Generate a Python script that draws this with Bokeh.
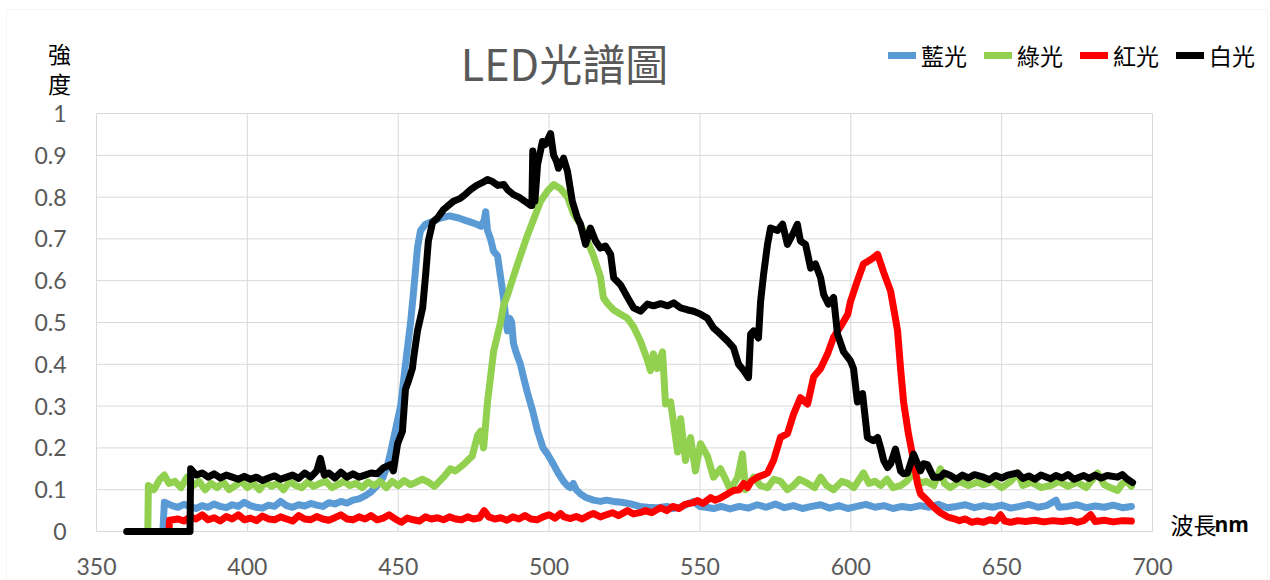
from bokeh.plotting import figure
from bokeh.models import Legend, LegendItem, Label, FixedTicker, BoxAnnotation, Range1d
from bokeh.embed import file_html
from bokeh.resources import INLINE

# ---------------- data ----------------
blue_wl = [372, 372.5, 375, 377, 379, 381, 383, 385, 387, 389, 391, 393, 395, 397, 399, 401, 403, 405, 407, 409,
           411, 413, 415, 417, 419, 421, 423, 425, 427, 429, 431, 433, 435, 437, 439, 441, 443, 445, 446.5, 447.5,
           449, 450.8, 452.4, 454.1, 455.1, 456.4, 457.4, 459, 461, 464, 467, 470, 472, 474, 476, 477.5, 478.5, 479,
           479.6, 480.6, 481.6, 482.9, 483.9, 484.9, 485.5, 486.2, 487, 487.6, 488.2, 489, 490.5, 491.5, 492.9, 494.5,
           496.2, 498, 499.5, 501.5, 503, 504.8, 506, 507, 508, 509, 510.4, 512, 514.7, 517, 519, 521.4, 524, 527,
           530, 532.6, 536, 539, 541, 543.6, 546, 547.9, 550, 552, 554.5, 557, 560, 563, 566, 569, 572, 575, 578,
           581, 584, 587, 590, 593, 596, 599, 602, 605, 608, 611, 614, 617, 620, 623, 626, 629, 632, 635, 638, 641,
           644, 647, 650, 653, 656, 659, 662, 665, 668, 669, 672, 675, 678, 681, 684, 687, 690, 693]
blue_val = [0.0, 0.07, 0.062, 0.058, 0.065, 0.06, 0.055, 0.062, 0.058, 0.066, 0.06, 0.057, 0.064, 0.06, 0.07, 0.062,
            0.058, 0.056, 0.063, 0.06, 0.072, 0.062, 0.058, 0.064, 0.061, 0.067, 0.063, 0.06, 0.069, 0.066, 0.072,
            0.068, 0.075, 0.078, 0.085, 0.095, 0.11, 0.13, 0.16, 0.19, 0.24, 0.30, 0.40, 0.50, 0.575, 0.68, 0.72,
            0.735, 0.74, 0.75, 0.755, 0.75, 0.745, 0.74, 0.735, 0.73, 0.745, 0.765, 0.72, 0.70, 0.67, 0.66, 0.61,
            0.56, 0.52, 0.48, 0.51, 0.50, 0.45, 0.43, 0.40, 0.37, 0.33, 0.29, 0.24, 0.20, 0.185, 0.16, 0.14, 0.12,
            0.11, 0.105, 0.115, 0.10, 0.09, 0.082, 0.075, 0.072, 0.075, 0.072, 0.07, 0.066, 0.06, 0.058, 0.057,
            0.06, 0.055, 0.058, 0.066, 0.072, 0.06, 0.058, 0.055, 0.06, 0.054, 0.06, 0.056, 0.064, 0.058, 0.066,
            0.057, 0.062, 0.055, 0.06, 0.064, 0.056, 0.062, 0.055, 0.06, 0.065, 0.058, 0.062, 0.055, 0.06, 0.057,
            0.062, 0.058, 0.065, 0.057, 0.06, 0.064, 0.057, 0.062, 0.058, 0.063, 0.056, 0.06, 0.065, 0.058, 0.062,
            0.075, 0.058, 0.06, 0.064, 0.057, 0.061, 0.058, 0.063, 0.057, 0.06]

green_wl = [367, 367.2, 369, 371, 372.5, 374, 376, 378, 380, 382, 384, 386, 388, 390, 392, 394, 396, 398, 400, 402,
            404, 406, 408, 410, 412, 414, 416, 418, 420, 422, 424, 426, 428, 430, 432, 434, 436, 438, 440, 442, 444,
            446, 448, 450, 452, 454, 456, 458, 460, 462, 463, 465, 467.3, 469, 471.6, 473, 474.5, 476.3, 477.3,
            478.3, 479.6, 480.6, 481.6, 482.9, 483.9, 484.9, 486.2, 488.2, 490.5, 492.9, 494.8, 497.2, 499.5,
            501.5, 503.8, 506.1, 508.1, 510.4, 512.7, 514.7, 517, 518, 519.4, 521.4, 523.7, 526, 528, 530.3, 532.6,
            533.6, 534.6, 535.9, 537.6, 538.6, 540.3, 542.6, 543.6, 545.2, 546.9, 548.5, 550.2, 552.5, 554.5,
            556.8, 558.5, 560.1, 562.5, 564.1, 565.1, 567.8, 570, 572.4, 574.5, 576.7, 579, 581, 583, 585.7, 588,
            590, 592, 594.3, 597, 599, 601, 604.2, 606, 608, 609.9, 612, 614, 616.5, 618.5, 620.8, 623, 625, 627.5,
            629.7, 631, 633, 636, 639, 642, 644, 647, 650, 653, 655.3, 657, 660, 663, 666.2, 669, 672, 675, 678,
            681.8, 684, 686, 688.4, 690, 691.7, 693]
green_val = [0.0, 0.11, 0.10, 0.125, 0.135, 0.115, 0.12, 0.105, 0.13, 0.11, 0.12, 0.10, 0.115, 0.105, 0.118, 0.10,
             0.11, 0.12, 0.105, 0.115, 0.10, 0.118, 0.108, 0.115, 0.10, 0.12, 0.11, 0.105, 0.118, 0.108, 0.115,
             0.12, 0.105, 0.112, 0.12, 0.11, 0.115, 0.105, 0.118, 0.11, 0.12, 0.105, 0.12, 0.11, 0.122, 0.112,
             0.118, 0.125, 0.118, 0.108, 0.115, 0.13, 0.15, 0.145, 0.16, 0.17, 0.18, 0.23, 0.24, 0.20, 0.31, 0.37,
             0.43, 0.47, 0.50, 0.54, 0.565, 0.61, 0.66, 0.71, 0.745, 0.79, 0.815, 0.83, 0.82, 0.80, 0.76, 0.735,
             0.695, 0.66, 0.61, 0.56, 0.545, 0.53, 0.52, 0.51, 0.49, 0.455, 0.41, 0.385, 0.425, 0.39, 0.43, 0.305,
             0.31, 0.19, 0.27, 0.17, 0.225, 0.145, 0.21, 0.18, 0.13, 0.15, 0.125, 0.10, 0.13, 0.185, 0.10, 0.13,
             0.11, 0.105, 0.125, 0.12, 0.10, 0.11, 0.125, 0.115, 0.105, 0.13, 0.11, 0.10, 0.12, 0.115, 0.105, 0.14,
             0.115, 0.12, 0.11, 0.125, 0.105, 0.11, 0.12, 0.14, 0.115, 0.12, 0.11, 0.15, 0.115, 0.105, 0.12, 0.11,
             0.118, 0.112, 0.12, 0.105, 0.12, 0.14, 0.11, 0.118, 0.105, 0.11, 0.12, 0.108, 0.118, 0.105, 0.14,
             0.112, 0.105, 0.098, 0.115, 0.12, 0.108]

red_wl = [374, 374.2, 377, 379, 381, 383, 385, 387, 389, 391, 393, 395, 397, 399, 401, 403, 405, 407, 409, 411, 413,
          415, 417, 419, 421, 423, 425, 427, 429, 431, 433, 435, 437, 439, 441, 443, 445, 447, 449, 451, 453, 455,
          457, 459, 461, 463, 465, 467, 469, 471, 473, 475, 477, 478.5, 480, 482, 484, 486, 488, 490, 492, 494,
          496, 498, 500, 502, 503.8, 505, 507.1, 509, 511, 513, 514.7, 517, 519, 521, 523, 526, 528, 530, 532,
          534, 536.9, 539, 541, 543, 545, 547.9, 549.2, 551, 553.5, 555, 556.8, 559.1, 561.1, 563, 564.5, 565.8,
          567, 569.1, 571, 572.4, 574.4, 576.7, 579, 581, 583.3, 585.7, 587.7, 590, 592.3, 594.3, 596.6, 599,
          599.9, 602.2, 604.2, 606.5, 607.5, 608.9, 610.9, 613.2, 614.8, 615.5, 616.5, 617.5, 619.1, 620.8, 622.1,
          623.1, 625.4, 626.4, 628, 629.7, 632, 634, 636, 638, 640, 642, 644, 646, 648, 649.6, 651, 653, 655.3,
          658, 661, 664, 667, 670, 673, 675, 677.2, 679.5, 681, 684, 687, 690, 693]
red_val = [0.0, 0.027, 0.03, 0.025, 0.035, 0.03, 0.04, 0.028, 0.033, 0.025, 0.036, 0.03, 0.04, 0.028, 0.032, 0.026,
           0.037, 0.03, 0.028, 0.035, 0.03, 0.025, 0.038, 0.03, 0.028, 0.036, 0.03, 0.027, 0.033, 0.04, 0.03,
           0.028, 0.035, 0.03, 0.038, 0.028, 0.032, 0.04, 0.03, 0.022, 0.032, 0.028, 0.025, 0.035, 0.03, 0.033,
           0.028, 0.035, 0.03, 0.028, 0.035, 0.03, 0.033, 0.05, 0.035, 0.03, 0.033, 0.027, 0.035, 0.03, 0.038,
           0.03, 0.028, 0.035, 0.04, 0.032, 0.043, 0.035, 0.031, 0.036, 0.03, 0.038, 0.043, 0.035, 0.04, 0.045,
           0.038, 0.05, 0.042, 0.045, 0.05, 0.045, 0.057, 0.05, 0.06, 0.055, 0.065, 0.069, 0.074, 0.067, 0.081,
           0.075, 0.08, 0.09, 0.098, 0.10, 0.115, 0.105, 0.12, 0.13, 0.135, 0.14, 0.17, 0.225, 0.234, 0.28, 0.32,
           0.305, 0.37, 0.39, 0.425, 0.465, 0.49, 0.52, 0.55, 0.60, 0.64, 0.65, 0.655, 0.663, 0.62, 0.575, 0.51,
           0.48, 0.39, 0.31, 0.234, 0.17, 0.115, 0.09, 0.074, 0.066, 0.055, 0.045, 0.035, 0.031, 0.026, 0.03,
           0.022, 0.025, 0.022, 0.028, 0.025, 0.04, 0.025, 0.022, 0.026, 0.024, 0.027, 0.023, 0.026, 0.024, 0.027,
           0.022, 0.026, 0.04, 0.024, 0.027, 0.023, 0.026, 0.025]

white_wl = [360, 381, 381.2, 383, 385, 387, 389, 391, 393, 395, 397, 399, 401, 403, 405, 407, 409, 411, 413, 415,
            417, 419, 421, 423, 424.2, 425.5, 427, 429, 431, 433, 435, 437, 439, 441, 443, 445, 447.4, 448.4, 449.8,
            451.4, 452.4, 453.4, 454.7, 455.1, 456.4, 458.1, 459.1, 460, 461.4, 463, 465, 468.3, 470.6, 472, 474,
            476, 478, 479.6, 481, 483, 485, 486.2, 488.2, 490, 492, 493.9, 494.3, 494.6, 495.3, 496.2, 497.8, 498.8,
            500.5, 501.5, 502.5, 503.1, 504.8, 506.1, 507.7, 509.4, 510.4, 512.1, 513.7, 515.4, 517, 518.7, 520.4,
            521.4, 523.7, 526, 528, 530.3, 532.6, 534.6, 537, 539.3, 541.3, 543.6, 546, 547.9, 550.2, 552.5, 554.5,
            556.8, 559.1, 561.1, 562.8, 564.5, 566.1, 566.8, 567.8, 569.4, 570.1, 571.1, 572.4, 573.4, 575.7, 577.4,
            579, 580.7, 582.3, 583.3, 585, 586.7, 588.3, 590, 591, 592.6, 594.3, 595.6, 597.6, 599.9, 600.9, 602.2,
            603.9, 605.5, 607.5, 608.9, 609.9, 610.9, 612.2, 613.2, 614.8, 616.5, 617.5, 618.8, 620.8, 623.1, 624.1,
            625.4, 627.4, 629.7, 631, 633, 635, 637, 639, 641, 644, 646, 648, 650, 652, 655.3, 657, 659, 661, 663,
            666.2, 668, 670, 672, 674, 677.2, 679, 681, 683, 685, 688.4, 690, 691.7, 693.4]
white_val = [0.0, 0.0, 0.15, 0.135, 0.14, 0.13, 0.138, 0.128, 0.135, 0.13, 0.125, 0.132, 0.125, 0.13, 0.122, 0.128,
             0.133, 0.125, 0.13, 0.135, 0.127, 0.14, 0.13, 0.145, 0.175, 0.135, 0.14, 0.128, 0.142, 0.13, 0.138,
             0.13, 0.135, 0.14, 0.138, 0.152, 0.16, 0.145, 0.21, 0.24, 0.34, 0.36, 0.39, 0.415, 0.48, 0.535, 0.615,
             0.695, 0.74, 0.75, 0.77, 0.79, 0.797, 0.805, 0.818, 0.828, 0.835, 0.842, 0.838, 0.828, 0.83, 0.818,
             0.806, 0.80, 0.79, 0.78, 0.78, 0.91, 0.79, 0.878, 0.933, 0.926, 0.952, 0.90, 0.885, 0.869, 0.893, 0.862,
             0.79, 0.75, 0.735, 0.687, 0.726, 0.695, 0.678, 0.683, 0.663, 0.607, 0.59, 0.56, 0.535, 0.527, 0.544,
             0.54, 0.545, 0.54, 0.547, 0.535, 0.53, 0.527, 0.52, 0.51, 0.487, 0.472, 0.456, 0.44, 0.40, 0.385, 0.368,
             0.472, 0.48, 0.463, 0.55, 0.615, 0.687, 0.726, 0.72, 0.735, 0.687, 0.71, 0.735, 0.695, 0.687, 0.63,
             0.64, 0.607, 0.567, 0.544, 0.56, 0.472, 0.43, 0.408, 0.39, 0.31, 0.33, 0.225, 0.217, 0.225, 0.20, 0.17,
             0.153, 0.162, 0.197, 0.145, 0.138, 0.14, 0.185, 0.145, 0.162, 0.16, 0.13, 0.13, 0.14, 0.134, 0.125,
             0.135, 0.128, 0.136, 0.13, 0.124, 0.134, 0.128, 0.135, 0.14, 0.127, 0.133, 0.125, 0.135, 0.126, 0.134,
             0.128, 0.136, 0.125, 0.134, 0.127, 0.135, 0.128, 0.134, 0.13, 0.136, 0.125, 0.117]

series_names = ["藍光", "綠光", "紅光", "白光"]
series_colors = ["#5B9BD5", "#92D050", "#FF0000", "#000000"]
x_ticks = [350, 400, 450, 500, 550, 600, 650, 700]
y_ticks = [0, 0.1, 0.2, 0.3, 0.4, 0.5, 0.6, 0.7, 0.8, 0.9, 1.0]
y_tick_labels = ["0", "0.1", "0.2", "0.3", "0.4", "0.5", "0.6", "0.7", "0.8", "0.9", "1"]
title_text = "LED光譜圖"
y_title_chars = ["強", "度"]
x_title_text = "波長"
x_title_unit = "nm"

# ---------------- layout (pixels of the 1270x580 canvas) ----------------
W, H = 1270, 580
PL, PR, PT, PB = 96, 1152, 113, 531          # plot-area edges on the canvas
X0, X1 = x_ticks[0], x_ticks[-1]
Y0, Y1 = y_ticks[0], y_ticks[-1]
kx = (X1 - X0) / (PR - PL)
ky = (Y1 - Y0) / (PB - PT)
x_range = Range1d(X0 - PL * kx, X0 + (W - PL) * kx)
y_range = Range1d(Y0 - (H - PB) * ky, Y0 + PB * ky)

CJK = "Noto Sans CJK TC"
NUM = "Lato"
GREY = "#595959"
GRID = "#d9d9d9"

p = figure(width=W, height=H, x_range=x_range, y_range=y_range,
           output_backend="svg", toolbar_location=None, min_border=0,
           background_fill_color="white", border_fill_color="white")
p.title.visible = False
p.outline_line_color = None
p.grid.visible = False

for ax in (p.xaxis[0], p.yaxis[0]):
    ax.axis_line_color = None
    ax.major_tick_line_color = None
    ax.minor_tick_line_color = None
    ax.major_label_text_font = NUM
    ax.major_label_text_font_size = "23px"
    ax.major_label_text_color = GREY
p.xaxis.fixed_location = Y0
p.yaxis.fixed_location = X0
p.xaxis.ticker = FixedTicker(ticks=x_ticks)
p.yaxis.ticker = FixedTicker(ticks=y_ticks)
p.yaxis.major_label_overrides = {t: s for t, s in zip(y_ticks, y_tick_labels)}
p.xaxis.major_label_standoff = 20
p.yaxis.major_label_standoff = 24

# gridlines of the plot area, from the tick arrays
p.segment(x0=x_ticks, y0=[Y0] * len(x_ticks), x1=x_ticks, y1=[Y1] * len(x_ticks),
          line_color=GRID, line_width=1)
p.segment(x0=[X0] * len(y_ticks), y0=y_ticks, x1=[X1] * len(y_ticks), y1=y_ticks,
          line_color=GRID, line_width=1)

xs = [blue_wl, green_wl, red_wl, white_wl]
ys = [blue_val, green_val, red_val, white_val]
renderers = []
for x, y, c in zip(xs, ys, series_colors):
    r = p.line(x, y, line_color=c, line_width=7, line_join="round", line_cap="round")
    renderers.append(r)

legend = Legend(items=[LegendItem(label=n, renderers=[r]) for n, r in zip(series_names, renderers)],
                orientation="horizontal", location=(888, H - 72),
                label_text_font=CJK, label_text_font_size="23px", label_text_color="#000000",
                glyph_width=28, glyph_height=20, label_standoff=5, spacing=17,
                padding=0, margin=0, border_line_color=None, background_fill_alpha=0)
p.add_layout(legend)

# title
p.add_layout(Label(x=564, y=H - 61, x_units="screen", y_units="screen", text=title_text,
                   text_font=CJK, text_font_size="43px", text_color=GREY,
                   text_align="center", text_baseline="middle"))
# y axis title (stacked characters)
for ch, yy in zip(y_title_chars, [52, 82]):
    p.add_layout(Label(x=59, y=H - yy, x_units="screen", y_units="screen", text=ch,
                       text_font=CJK, text_font_size="23px", text_color="#000000",
                       text_align="center", text_baseline="middle"))
# x axis title
p.add_layout(Label(x=1170, y=H - 523, x_units="screen", y_units="screen", text=x_title_text,
                   text_font=CJK, text_font_size="23px", text_color="#000000",
                   text_align="left", text_baseline="middle"))
p.add_layout(Label(x=1214, y=H - 523, x_units="screen", y_units="screen", text=x_title_unit,
                   text_font="Open Sans", text_font_size="21px", text_font_style="bold",
                   text_color="#000000", text_align="left", text_baseline="middle"))

# chart area border
p.add_layout(BoxAnnotation(left=6, right=1267, top=H - 9, bottom=-10,
                           left_units="screen", right_units="screen", top_units="screen", bottom_units="screen",
                           fill_alpha=0, line_color=GRID, line_width=1))

open("out.html", "w").write(file_html(p, INLINE))
